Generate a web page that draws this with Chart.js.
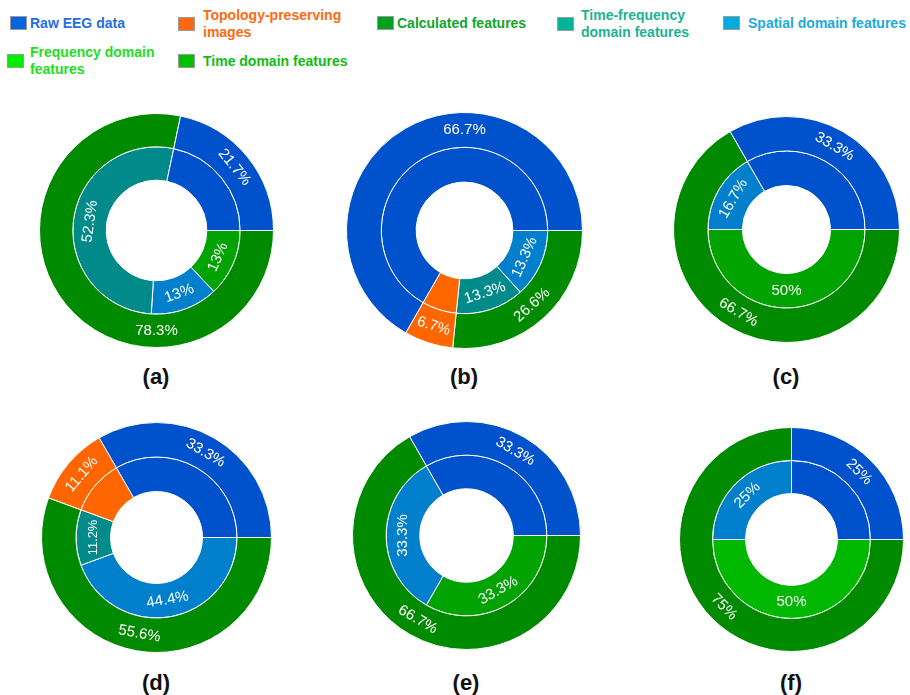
<!DOCTYPE html>
<html>
<head>
<meta charset="utf-8">
<script src="https://cdn.jsdelivr.net/npm/chart.js@4.4.1/dist/chart.umd.min.js"></script>
<style>
  body { margin: 0; background: #fff; }
  #page { position: relative; width: 910px; height: 695px; overflow: hidden; font-family: 'Liberation Sans', Arial, Helvetica, sans-serif; }
  .box { position: absolute; width: 15px; height: 12px; border: 1px solid #9a9a9a; }
  .key { position: absolute; font-size: 14px; font-weight: bold; line-height: 17px; }
  .cap { position: absolute; font-size: 22px; font-weight: bold; color: #111; transform: translate(-50%, -50%); }
  canvas { position: absolute; }
</style>
</head>
<body>
<div id="page"></div>
<script>
const FONT = "'Liberation Sans', Arial, Helvetica, sans-serif"

// categories
const outerNames = ['Raw EEG data', 'Topology-preserving images', 'Calculated features']
const innerNames = ['Raw EEG data', 'Topology-preserving images', 'Time-frequency domain features',
  'Spatial domain features', 'Frequency domain features', 'Time domain features']
const legendNames = ['Raw EEG data', 'Topology-preserving images', 'Calculated features',
  'Time-frequency domain features', 'Spatial domain features', 'Frequency domain features', 'Time domain features']
const panels = ['(a)', '(b)', '(c)', '(d)', '(e)', '(f)']

// outer ring (%): raw, topology, calculated
const outerA = [21.7, 0, 78.3]
const outerB = [66.7, 6.7, 26.6]
const outerC = [33.3, 0, 66.7]
const outerD = [33.3, 11.1, 55.6]
const outerE = [33.3, 0, 66.7]
const outerF = [25, 0, 75]

// inner ring (%): raw, topology, time-frequency, spatial, frequency, time
const innerA = [21.7, 0, 52.3, 13, 0, 13]
const innerB = [66.7, 6.7, 13.3, 13.3, 0, 0]
const innerC = [33.3, 0, 0, 16.7, 0, 50]
const innerD = [33.3, 11.1, 11.2, 44.4, 0, 0]
const innerE = [33.3, 0, 0, 33.3, 0, 33.3]
const innerF = [25, 0, 0, 25, 50, 0]

const outerSets = [outerA, outerB, outerC, outerD, outerE, outerF]
const innerSets = [innerA, innerB, innerC, innerD, innerE, innerF]

const sliceColor = {
  'Raw EEG data': '#0052cc',
  'Topology-preserving images': '#ff6600',
  'Calculated features': '#008a00',
  'Time-frequency domain features': '#008a8a',
  'Spatial domain features': '#0080cc',
  'Frequency domain features': '#00b800',
  'Time domain features': '#00a300'
}
const keyBox = ['#0066dd', '#ff6611', '#00a020', '#00b399', '#00aadd', '#00ee00', '#00c000']
const keyText = ['#1f6fe0', '#ff6a10', '#11a52a', '#1ab394', '#20aadd', '#22dd22', '#11bb11']

// legend: box x, text x, centre y, wrap width
const keyPos = [[10, 30, 23, 0], [178, 203, 24, 150], [377, 397, 23, 0], [557, 581, 24, 120],
  [723, 748, 23, 0], [7, 30, 61, 135], [178, 203, 61, 0]]

// doughnut centre x, centre y, radius, cutout, caption y
const layout = [
  [156, 230, 117, '43%', 377], [464, 230, 118, '41%', 377], [786, 229, 113, '39%', 377],
  [156, 537, 115, '40%', 683], [466, 535, 114, '41%', 683], [791, 539, 112, '41%', 683]
]

// outer-ring labels placed away from the slice middle (degrees, counter-clockwise from 3 o'clock)
const labelAngles = [{ 'Calculated features': 270 }, { 'Raw EEG data': 90 }, {}, {}, {}, {}]

const page = document.getElementById('page')

legendNames.forEach((name, i) => {
  const [bx, tx, cy, wrap] = keyPos[i]
  const box = document.createElement('div')
  box.className = 'box'
  box.style.left = bx + 'px'
  box.style.top = (cy - 7) + 'px'
  box.style.background = keyBox[i]
  page.appendChild(box)
  const key = document.createElement('div')
  key.className = 'key'
  key.textContent = name
  key.style.left = tx + 'px'
  key.style.color = keyText[i]
  if (wrap) key.style.width = wrap + 'px'
  else key.style.whiteSpace = 'nowrap'
  page.appendChild(key)
  key.style.top = (cy - key.offsetHeight / 2) + 'px'
})

const arcLabels = {
  id: 'arcLabels',
  afterDatasetsDraw (chart) {
    const ctx = chart.ctx
    chart.data.datasets.forEach((ds, di) => {
      const meta = chart.getDatasetMeta(di)
      meta.data.forEach((arc, i) => {
        const name = ds.names[i]
        if (ds.quiet.includes(name)) return
        const p = arc.getProps(['x', 'y', 'startAngle', 'endAngle', 'innerRadius', 'outerRadius'], true)
        let a = (p.startAngle + p.endAngle) / 2
        if (ds.angles[name] != null) a = -ds.angles[name] * Math.PI / 180
        const r = (p.innerRadius + p.outerRadius) / 2
        const text = ds.data[i] + '%'
        let size = 15
        ctx.font = size + 'px ' + FONT
        const room = (p.endAngle - p.startAngle) * r * 0.8
        const w = ctx.measureText(text).width
        if (w > room) size = Math.max(9, size * room / w)
        let rot = a + Math.PI / 2
        rot = ((rot + Math.PI) % (2 * Math.PI) + 2 * Math.PI) % (2 * Math.PI) - Math.PI
        if (rot > Math.PI / 2 + 1e-6) rot -= Math.PI
        if (rot < -Math.PI / 2 - 1e-6) rot += Math.PI
        ctx.save()
        ctx.translate(p.x + Math.cos(a) * r, p.y + Math.sin(a) * r)
        ctx.rotate(rot)
        ctx.font = size + 'px ' + FONT
        ctx.fillStyle = '#fff'
        ctx.textAlign = 'center'
        ctx.textBaseline = 'middle'
        ctx.fillText(text, 0, 0)
        ctx.restore()
      })
    })
  }
}

// slices run counter-clockwise from 3 o'clock, so feed them reversed to the clockwise doughnut
function ring (names, values, quiet, angles) {
  const keep = names.map((n, i) => ({ n, v: values[i] })).filter(s => s.v > 0).reverse()
  return {
    data: keep.map(s => s.v),
    names: keep.map(s => s.n),
    backgroundColor: keep.map(s => sliceColor[s.n]),
    borderColor: '#ffffff',
    borderWidth: 1,
    quiet,
    angles
  }
}

panels.forEach((tag, k) => {
  const [cx, cy, r, cutout, capY] = layout[k]
  const size = 2 * r + 1
  const canvas = document.createElement('canvas')
  canvas.width = size
  canvas.height = size
  canvas.style.left = (cx - size / 2) + 'px'
  canvas.style.top = (cy - size / 2) + 'px'
  page.appendChild(canvas)

  new Chart(canvas.getContext('2d'), {
    type: 'doughnut',
    data: {
      datasets: [
        ring(outerNames, outerSets[k], [], labelAngles[k]),
        ring(innerNames, innerSets[k], ['Raw EEG data', 'Topology-preserving images'], {})
      ]
    },
    options: {
      responsive: false,
      maintainAspectRatio: false,
      animation: false,
      rotation: 90,
      cutout,
      layout: { padding: 0 },
      plugins: { legend: { display: false }, tooltip: { enabled: false } }
    },
    plugins: [arcLabels]
  })

  const cap = document.createElement('div')
  cap.className = 'cap'
  cap.textContent = tag
  cap.style.left = cx + 'px'
  cap.style.top = capY + 'px'
  page.appendChild(cap)
})
</script>
</body>
</html>
